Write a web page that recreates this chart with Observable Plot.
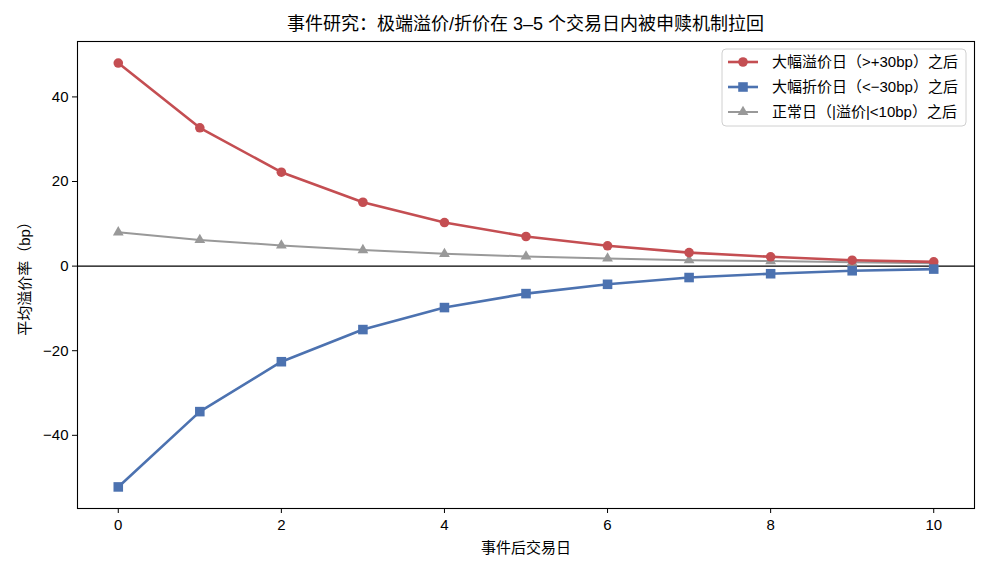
<!DOCTYPE html>
<html><head><meta charset="utf-8">
<script src="https://cdn.jsdelivr.net/npm/d3@7"></script>
<script src="https://cdn.jsdelivr.net/npm/@observablehq/plot@0.6"></script>
<style>body{margin:0;background:#fff}</style>
</head><body><div id="chart"></div>
<script>
const days = [0, 1, 2, 3, 4, 5, 6, 7, 8, 9, 10];
const premiumAfter = [48.0, 32.7, 22.2, 15.1, 10.3, 7.0, 4.8, 3.2, 2.2, 1.4, 1.0];
const discountAfter = [-52.2, -34.4, -22.6, -15.0, -9.8, -6.5, -4.3, -2.7, -1.8, -1.1, -0.7];
const normalAfter = [8.0, 6.2, 4.9, 3.8, 2.9, 2.3, 1.8, 1.4, 1.2, 0.9, 0.7];
const seriesNames = ["大幅溢价日（>+30bp）之后", "大幅折价日（<−30bp）之后", "正常日（|溢价|<10bp）之后"];
const seriesColors = ["#c44e52", "#4c72b0", "#999999"];
const seriesSymbols = ["circle", "square", "triangle"];
const seriesWidths = [2.6, 2.6, 2.0];
const seriesR = [4.8, 5.4, 4.0];
const xTicks = [0, 2, 4, 6, 8, 10];
const yTicks = [-40, -20, 0, 20, 40];
const titleText = "事件研究：极端溢价/折价在 3–5 个交易日内被申赎机制拉回";
const xLabel = "事件后交易日";
const yLabel = "平均溢价率（bp）";

const allSeries = [premiumAfter, discountAfter, normalAfter];
const rows = [];
allSeries.forEach((vals, si) => vals.forEach((v, i) => rows.push({day: days[i], value: v, series: seriesNames[si]})));

const font = "'Liberation Sans', 'Noto Sans CJK SC', sans-serif";
const W = 990, H = 572, mL = 77, mR = 16, mT = 41, mB = 64;

const marks = [
  Plot.ruleY([0], {stroke: "black", strokeWidth: 1.1}),
  Plot.frame({stroke: "black", strokeWidth: 1.1}),
  Plot.axisX({ticks: xTicks, tickSize: 5, tickPadding: 6, fontSize: 15, label: xLabel, labelAnchor: "center", labelArrow: "none", labelOffset: 44}),
  Plot.axisY({ticks: yTicks, tickSize: 5, tickPadding: 4, fontSize: 15, label: yLabel, labelAnchor: "center", labelArrow: "none", labelOffset: 58})
];
[2, 0, 1].forEach(si => {
  const data = rows.filter(d => d.series === seriesNames[si]);
  marks.push(Plot.line(data, {x: "day", y: "value", stroke: seriesColors[si], strokeWidth: seriesWidths[si]}));
  marks.push(Plot.dot(data, {x: "day", y: "value", symbol: seriesSymbols[si], r: seriesR[si], fill: seriesColors[si], stroke: seriesColors[si], strokeWidth: 0}));
});

const plot = Plot.plot({
  width: W, height: H,
  marginLeft: mL, marginRight: mR, marginTop: mT, marginBottom: mB,
  x: {domain: [-0.5, 10.5]},
  y: {domain: [-57.3, 53.1]},
  style: {fontFamily: font, fontSize: "15px", background: "white", color: "black"},
  marks
});
document.getElementById("chart").appendChild(plot);

const svg = d3.select(plot);
svg.selectAll("[aria-label='y-axis label'] text, [aria-label='x-axis label'] text").style("font-size", "15px");
svg.append("text")
  .attr("x", (mL + W - mR) / 2).attr("y", 30)
  .attr("text-anchor", "middle")
  .style("font-family", font).style("font-size", "18px").attr("fill", "black")
  .text(titleText);

// legend
const lg = svg.append("g").attr("text-anchor", "start");
const lx = 722, ly = 49, lw = 244, lh = 77;
lg.append("rect").attr("x", lx).attr("y", ly).attr("width", lw).attr("height", lh)
  .attr("rx", 4).attr("fill", "white").attr("fill-opacity", 0.85).attr("stroke", "#d0d0d0").attr("stroke-width", 1);
const symMap = {circle: d3.symbolCircle, square: d3.symbolSquare, triangle: d3.symbolTriangle};
seriesNames.forEach((name, i) => {
  const cy = ly + 13 + i * 25;
  lg.append("line").attr("x1", lx + 6).attr("x2", lx + 36).attr("y1", cy).attr("y2", cy)
    .attr("stroke", seriesColors[i]).attr("stroke-width", seriesWidths[i]);
  lg.append("path").attr("transform", `translate(${lx + 21},${cy})`)
    .attr("d", d3.symbol(symMap[seriesSymbols[i]], Math.PI * seriesR[i] * seriesR[i])())
    .attr("fill", seriesColors[i]);
  lg.append("text").attr("x", lx + 50).attr("y", cy).attr("dy", "0.35em").attr("text-anchor", "start")
    .style("font-family", font).style("font-size", "15px").attr("fill", "black").text(name);
});
</script>
</body></html>
